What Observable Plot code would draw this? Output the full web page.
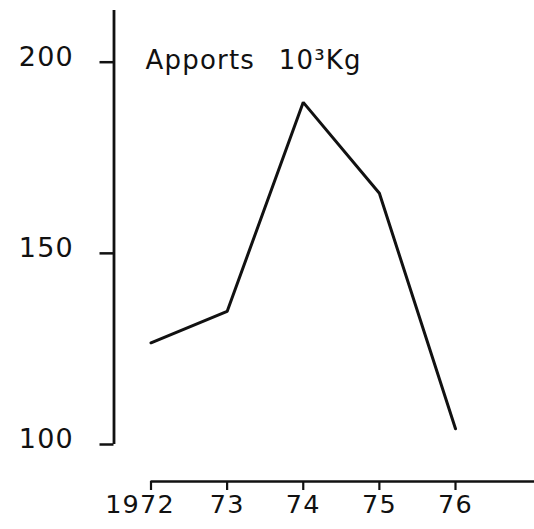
<!DOCTYPE html>
<html><head><meta charset="utf-8">
<script src="https://cdn.jsdelivr.net/npm/d3@7"></script>
<script src="https://cdn.jsdelivr.net/npm/@observablehq/plot@0.6"></script>
<style>body{margin:0;background:#fff}</style>
</head><body><div id="chart"></div>
<script>
const years = [1972, 1973, 1974, 1975, 1976];
const apports = [126.6, 134.8, 189.5, 165.7, 104.1];
const xTickLabels = ["1972", "73", "74", "75", "76"];
const yTicks = [100, 150, 200];
const title = "Apports\u2002 10\u00b3Kg";
const yAxisTop = 213.5;
const xAxisEnd = 1977.2;
const data = years.map((year, i) => ({year, value: apports[i]}));
const ink = "#111";

const chart = Plot.plot({
  width: 534, height: 529,
  marginLeft: 150.5, marginRight: 79, marginTop: 61.7, marginBottom: 85,
  x: {domain: [1972, 1976]},
  y: {domain: [100, 200]},
  style: {fontFamily: "'DejaVu Sans', sans-serif", fontSize: "25px", color: ink, background: "#fff", letterSpacing: "1.2px"},
  marks: [
    Plot.ruleX([years[0]], {y1: yTicks[0], y2: yAxisTop, dx: -37, strokeWidth: 2.8, stroke: ink}),
    Plot.axisY({ticks: yTicks, tickSize: 14, dx: -37, fill: "none", label: null, strokeWidth: 2.5, stroke: ink}),
    Plot.axisY({ticks: yTicks, tickSize: 0, tickPadding: 40, dx: -37, dy: -5, label: null, fontSize: 27, fill: ink}),
    Plot.ruleY([yTicks[0]], {x1: years[0], x2: xAxisEnd, dy: 37, strokeWidth: 2.6, stroke: ink}),
    Plot.axisX({ticks: years, tickSize: 9, dy: 37, fill: "none", label: null, strokeWidth: 2.2, stroke: ink}),
    Plot.axisX({ticks: years.slice(1), tickSize: 0, tickPadding: 13, dy: 37, label: null, fontSize: 25.5, fill: ink,
      tickFormat: d => xTickLabels[years.indexOf(d)]}),
    Plot.axisX({ticks: years.slice(0, 1), tickSize: 0, tickPadding: 13, dy: 37, dx: -11, label: null, fontSize: 25.5, fill: ink,
      tickFormat: d => xTickLabels[years.indexOf(d)]}),
    Plot.text([title], {frameAnchor: "top-left", text: d => d, dx: -5.5, dy: -2, lineAnchor: "middle", textAnchor: "start", fontSize: 26, fill: ink}),
    Plot.line(data, {x: "year", y: "value", strokeWidth: 3, stroke: ink, strokeLinejoin: "miter"})
  ]
});
document.getElementById("chart").appendChild(chart);
</script>
</body></html>
